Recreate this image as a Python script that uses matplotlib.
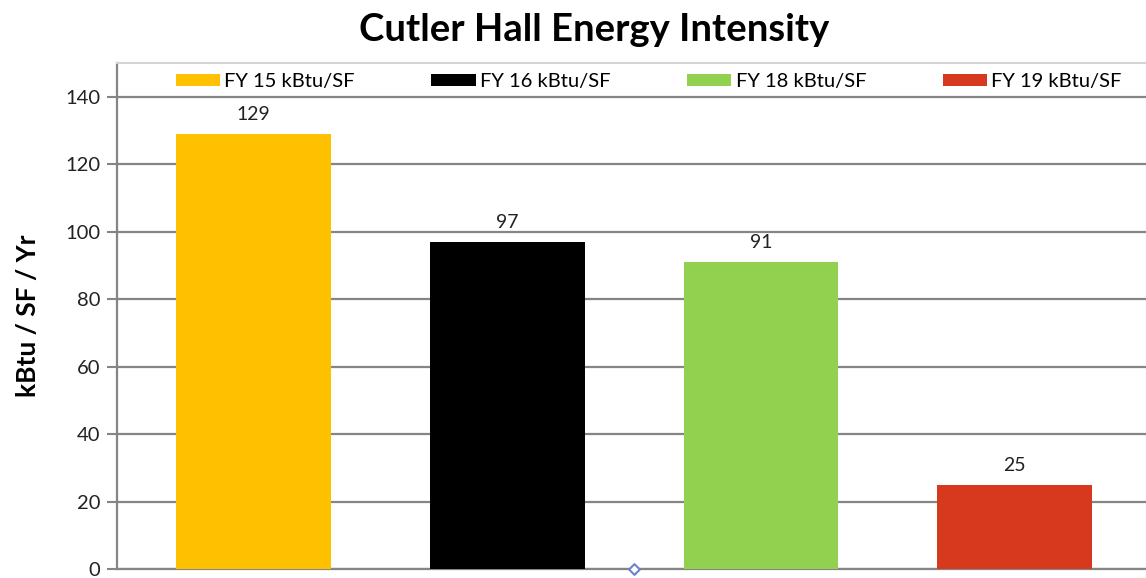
import numpy as np
import matplotlib.pyplot as plt

plt.rcParams['font.family'] = ['Lato', 'DejaVu Sans']

# Data
labels = ["FY 15 kBtu/SF", "FY 16 kBtu/SF", "FY 18 kBtu/SF", "FY 19 kBtu/SF"]
values = [129, 97, 91, 25]
colors = ["#ffc000", "#000000", "#92d050", "#d7391e"]
yticks = [0, 20, 40, 60, 80, 100, 120, 140]

fig = plt.figure(figsize=(11.46, 5.78), dpi=100)
ax = fig.add_axes([117 / 1146, 9 / 578, 1 - 117 / 1146, (569 - 63) / 578])

x = np.arange(len(values))
bars = ax.bar(x, values, width=0.61, color=colors, label=labels, zorder=3)

for xi, v in zip(x, values):
    ax.annotate(f"{v}", (xi, v), xytext=(0, 8), textcoords="offset points",
                ha="center", va="bottom", fontsize=14, color="#222222")

# stray marker at the baseline
ax.scatter([1.5], [0], marker="D", s=30, facecolor="white",
           edgecolor="#6f80d0", linewidth=1.5, zorder=5, clip_on=False)

ax.set_xlim(-0.538, 3.518)
ax.set_ylim(0, 150)
ax.set_yticks(yticks)
ax.set_xticks([])
ax.yaxis.grid(True, color="#858585", linewidth=1.6, zorder=0)
ax.tick_params(axis="y", length=7, width=1.5, color="#858585", labelsize=14.5,
               labelcolor="#222222", pad=5)

for side in ("left", "bottom"):
    ax.spines[side].set_color("#858585")
    ax.spines[side].set_linewidth(1.6)
ax.spines["top"].set_color("#d4d4d4")
ax.spines["top"].set_linewidth(1.5)
ax.spines["right"].set_visible(False)

ax.set_ylabel("kBtu / SF / Yr", fontsize=19, fontweight="bold", labelpad=18)

leg = ax.legend(ncol=4, loc="upper left", bbox_to_anchor=(0.057, 0.98),
                frameon=False, fontsize=14.5, handlelength=2.2, handleheight=0.5,
                handletextpad=0.2, columnspacing=3.82, borderpad=0,
                borderaxespad=0)

fig.text(0.518, 1 - 30 / 578, "Cutler Hall Energy Intensity", fontsize=27.5,
         fontweight="bold", ha="center", va="center")

fig.savefig("out.png")
